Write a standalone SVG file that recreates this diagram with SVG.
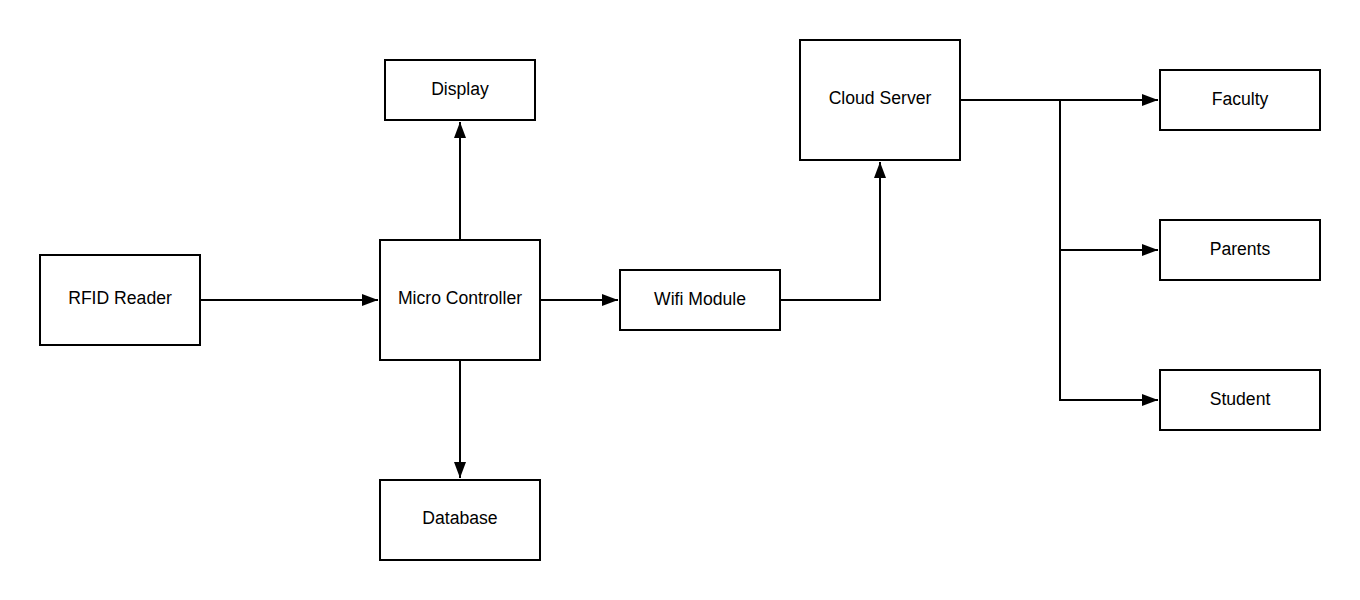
<svg xmlns="http://www.w3.org/2000/svg" width="1360" height="600" viewBox="0 0 1360 600">
<style>
.box{fill:#fff;stroke:#000;stroke-width:2}
.lbl{font-family:"Liberation Sans",Arial,sans-serif;font-size:17.6px;fill:#000;text-anchor:middle;dominant-baseline:central}
.ln{fill:none;stroke:#000;stroke-width:2}
</style>
<defs>
<marker id="ah" markerWidth="16" markerHeight="12" refX="16" refY="6" orient="auto" markerUnits="userSpaceOnUse">
<path d="M0,0 L16,6 L0,12 Z" fill="#000"/>
</marker>
</defs>
<rect width="1360" height="600" fill="#fff"/>
<g id="connectors">
<path class="ln" d="M200,300 L378,300" marker-end="url(#ah)"/>
<path class="ln" d="M460,240 L460,122" marker-end="url(#ah)"/>
<path class="ln" d="M460,360 L460,478" marker-end="url(#ah)"/>
<path class="ln" d="M540,300 L618,300" marker-end="url(#ah)"/>
<path class="ln" d="M780,300 L880,300 L880,162" marker-end="url(#ah)"/>
<path class="ln" d="M960,100 L1158,100" marker-end="url(#ah)"/>
<path class="ln" d="M1060,100 L1060,400 L1158,400" marker-end="url(#ah)"/>
<path class="ln" d="M1060,250 L1158,250" marker-end="url(#ah)"/>
</g>
<g id="rfid"><rect class="box" x="40" y="255" width="160" height="90"/><text class="lbl" x="120" y="298">RFID Reader</text></g>
<g id="micro"><rect class="box" x="380" y="240" width="160" height="120"/><text class="lbl" x="460" y="298">Micro Controller</text></g>
<g id="display"><rect class="box" x="385" y="60" width="150" height="60"/><text class="lbl" x="460" y="89">Display</text></g>
<g id="database"><rect class="box" x="380" y="480" width="160" height="80"/><text class="lbl" x="460" y="518">Database</text></g>
<g id="wifi"><rect class="box" x="620" y="270" width="160" height="60"/><text class="lbl" x="700" y="299">Wifi Module</text></g>
<g id="cloud"><rect class="box" x="800" y="40" width="160" height="120"/><text class="lbl" x="880" y="98">Cloud Server</text></g>
<g id="faculty"><rect class="box" x="1160" y="70" width="160" height="60"/><text class="lbl" x="1240" y="99">Faculty</text></g>
<g id="parents"><rect class="box" x="1160" y="220" width="160" height="60"/><text class="lbl" x="1240" y="249">Parents</text></g>
<g id="student"><rect class="box" x="1160" y="370" width="160" height="60"/><text class="lbl" x="1240" y="399">Student</text></g>
</svg>
